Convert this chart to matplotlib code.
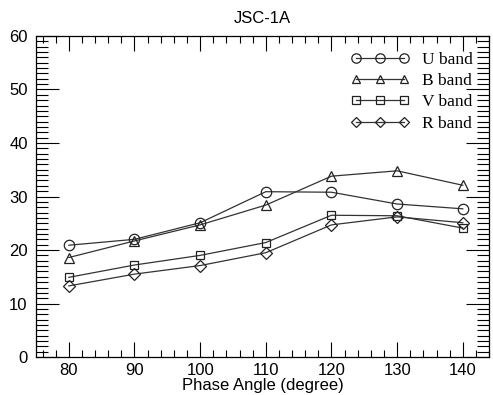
import numpy as np
import matplotlib
matplotlib.use("Agg")
import matplotlib.pyplot as plt
from matplotlib.ticker import MultipleLocator

# Dados
phase = [80, 90, 100, 110, 120, 130, 140]
u_band = [20.9, 22.0, 25.1, 30.9, 30.8, 28.6, 27.7]
b_band = [18.6, 21.7, 24.7, 28.4, 33.8, 34.8, 32.1]
v_band = [14.9, 17.2, 19.0, 21.4, 26.5, 26.4, 24.1]
r_band = [13.3, 15.5, 17.1, 19.5, 24.7, 26.2, 25.1]

series = [
    (u_band, 'o', 'U band'),
    (b_band, '^', 'B band'),
    (v_band, 's', 'V band'),
    (r_band, 'D', 'R band'),
]
sizes = {'o': 7.5, '^': 7, 's': 6, 'D': 6}

plt.rcParams['font.family'] = ['Liberation Sans', 'DejaVu Sans']

fig = plt.figure(figsize=(4.93, 3.95), dpi=100)
ax = fig.add_axes([0.073, 0.096, 0.919, 0.813])

for vals, mk, lab in series:
    ax.plot(phase, vals, marker=mk, markersize=sizes[mk], mfc='none', mec='#222222',
            color='#333333', linewidth=0.9, markeredgewidth=0.9, label=lab)

ax.set_xlim(75, 144)
ax.set_ylim(0, 60)
ax.xaxis.set_major_locator(MultipleLocator(10))
ax.xaxis.set_minor_locator(MultipleLocator(2))
ax.yaxis.set_major_locator(MultipleLocator(10))
ax.yaxis.set_minor_locator(MultipleLocator(1))

ax.tick_params(which='both', direction='in', top=True, right=True, labelsize=12)
ax.tick_params(axis='x', which='major', length=10.5, width=0.8, pad=4)
ax.tick_params(axis='x', which='minor', length=5, width=0.8)
ax.tick_params(axis='y', which='major', length=16.5, width=0.8, pad=6)
ax.tick_params(axis='y', which='minor', length=8.5, width=0.8)
for sp in ax.spines.values():
    sp.set_linewidth(0.9)

ax.set_title("JSC-1A", fontsize=12, pad=9)
ax.set_xlabel("Phase Angle (degree)", fontsize=12, labelpad=0)

leg = ax.legend(loc='upper right', frameon=False, numpoints=3, handlelength=3.4,
                prop={'family': 'Liberation Serif', 'size': 12.5}, labelspacing=0.3,
                markerscale=0.9, borderaxespad=0.5, handletextpad=0.7,
                bbox_to_anchor=(0.998, 1.0))

fig.savefig("out.png", dpi=100)
